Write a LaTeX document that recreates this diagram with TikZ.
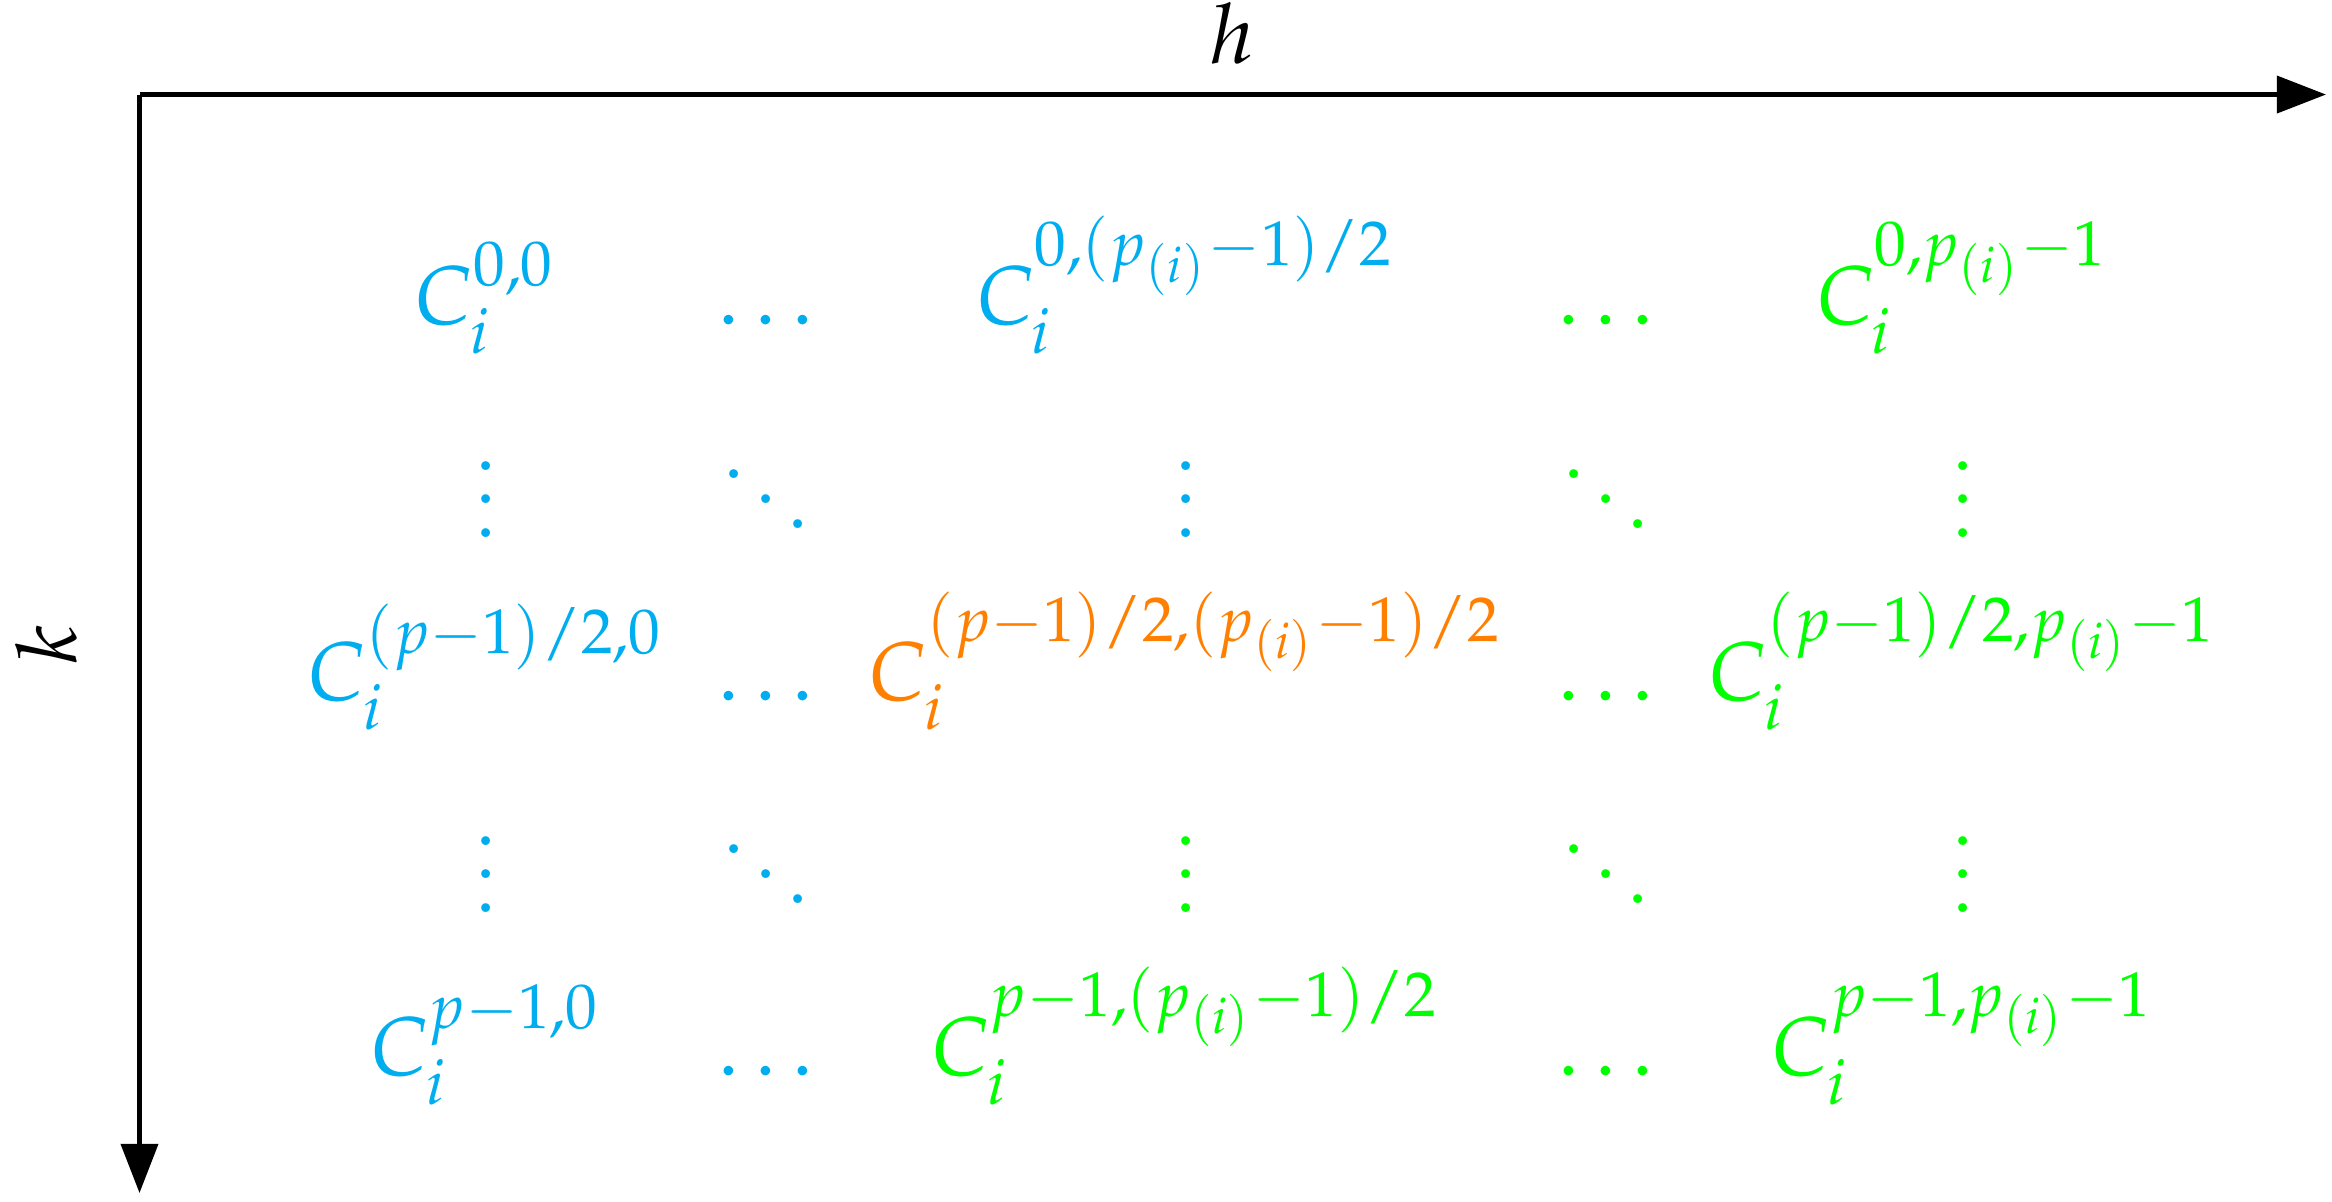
\documentclass[tikz,border=0pt]{standalone}
\usepackage{mathpazo}
\usetikzlibrary{arrows.meta}
\definecolor{cblue}{RGB}{0,174,239}
\definecolor{corange}{RGB}{255,128,0}
\definecolor{cgreen}{RGB}{0,255,0}
\begin{document}
\begin{tikzpicture}[x=0.12pt,y=-0.12pt,
  axis/.style={line width=0.6pt,-{Triangle[length=5.9pt,width=4.4pt]}},
  ent/.style={anchor=base,inner sep=0pt},
  bl/.style={ent,text=cblue},
  og/.style={ent,text=corange},
  gr/.style={ent,text=cgreen}]
\useasboundingbox (0,0) rectangle (2332,1201);
\coordinate (o) at (139.5,94.5);
\coordinate (hend) at (2326,94.5);
\coordinate (vend) at (139.5,1193);
\draw[axis] (o) -- (hend);
\draw[axis] (o) -- (vend);
\node[anchor=base] (hl) at (1232,63) {$h$};
\node[anchor=base,rotate=90] (kl) at (76,645) {$k$};
% columns: 486, 766, 1186, 1606, 1963 ; rows: 324, 537, 700, 912, 1075
\node[bl] (c11) at (486,324) {$C_i^{0,0}$};
\node[bl] (c12) at (766,324) {$\ldots$};
\node[bl] (c13) at (1186,324) {$C_i^{0,(p_{(i)}-1)/2}$};
\node[gr] (c14) at (1606,324) {$\ldots$};
\node[gr] (c15) at (1963,324) {$C_i^{0,p_{(i)}-1}$};
\node[bl] (c21) at (486,537) {$\vdots$};
\node[bl] (c22) at (766,537) {$\ddots$};
\node[bl] (c23) at (1186,537) {$\vdots$};
\node[gr] (c24) at (1606,537) {$\ddots$};
\node[gr] (c25) at (1963,537) {$\vdots$};
\node[bl] (c31) at (486,700) {$C_i^{(p-1)/2,0}$};
\node[bl] (c32) at (766,700) {$\ldots$};
\node[og] (c33) at (1186,700) {$C_i^{(p-1)/2,(p_{(i)}-1)/2}$};
\node[gr] (c34) at (1606,700) {$\ldots$};
\node[gr] (c35) at (1963,700) {$C_i^{(p-1)/2,p_{(i)}-1}$};
\node[bl] (c41) at (486,912) {$\vdots$};
\node[bl] (c42) at (766,912) {$\ddots$};
\node[gr] (c43) at (1186,912) {$\vdots$};
\node[gr] (c44) at (1606,912) {$\ddots$};
\node[gr] (c45) at (1963,912) {$\vdots$};
\node[bl] (c51) at (486,1075) {$C_i^{p-1,0}$};
\node[bl] (c52) at (766,1075) {$\ldots$};
\node[gr] (c53) at (1186,1075) {$C_i^{p-1,(p_{(i)}-1)/2}$};
\node[gr] (c54) at (1606,1075) {$\ldots$};
\node[gr] (c55) at (1963,1075) {$C_i^{p-1,p_{(i)}-1}$};
\end{tikzpicture}
\end{document}
